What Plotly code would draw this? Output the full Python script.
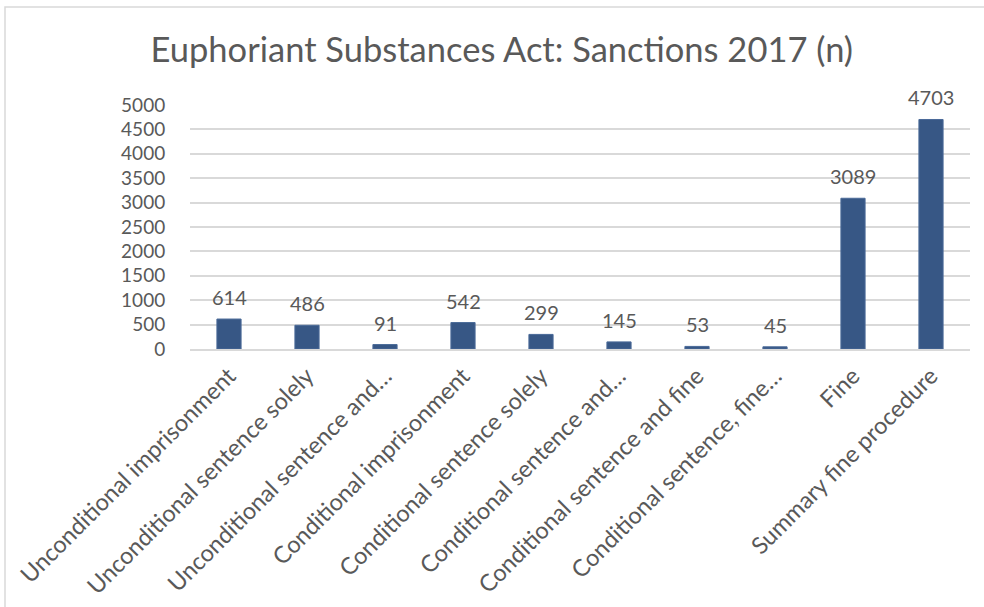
import plotly.graph_objects as go

categories = [
    "Unconditional imprisonment",
    "Unconditional sentence solely",
    "Unconditional sentence and…",
    "Conditional imprisonment",
    "Conditional sentence solely",
    "Conditional sentence and…",
    "Conditional sentence and fine",
    "Conditional sentence, fine…",
    "Fine",
    "Summary fine procedure",
]
values = [614, 486, 91, 542, 299, 145, 53, 45, 3089, 4703]
y_ticks = [0, 500, 1000, 1500, 2000, 2500, 3000, 3500, 4000, 4500, 5000]

FONT = "Lato"
GRAY = "#595959"

fig = go.Figure(
    go.Bar(
        x=categories,
        y=values,
        marker=dict(color="#375785", line=dict(color="#4a6a98", width=1)),
        width=0.31,
        hoverinfo="skip",
    )
)

annotations = [
    dict(
        x=c, y=v, xref="x", yref="y",
        text=str(v), showarrow=False,
        yanchor="bottom", yshift=8,
        font=dict(family=FONT, size=20, color=GRAY),
    )
    for c, v in zip(categories, values)
]

fig.update_layout(
    width=984,
    height=607,
    margin=dict(l=190, r=14, t=105, b=258),
    paper_bgcolor="white",
    plot_bgcolor="white",
    title=dict(
        text="Euphoriant Substances Act: Sanctions 2017 (n)",
        x=0.51,
        xanchor="center",
        y=0.918,
        yanchor="middle",
        font=dict(family=FONT, size=34.5, color=GRAY),
    ),
    showlegend=False,
    annotations=annotations,
    xaxis=dict(
        tickangle=-45,
        tickfont=dict(family=FONT, size=23.5, color=GRAY),
        showline=True,
        linecolor="#d9d9d9",
        linewidth=2,
        showgrid=False,
        ticks="outside",
        ticklen=2,
        tickcolor="white",
        automargin=False,
    ),
    yaxis=dict(
        range=[0, 5000],
        tickvals=y_ticks,
        ticktext=[str(v) for v in y_ticks],
        tickfont=dict(family=FONT, size=19, color=GRAY),
        showgrid=True,
        gridcolor="#d9d9d9",
        gridwidth=1.5,
        zeroline=False,
        ticks="outside",
        ticklen=20,
        tickcolor="white",
        automargin=False,
    ),
    shapes=[
        dict(
            type="rect",
            xref="paper",
            yref="paper",
            x0=(5 - 190) / 780,
            x1=(995 - 190) / 780,
            y0=-2,
            y1=(349 - 7) / 244,
            line=dict(color="#d9d9d9", width=1.5),
            fillcolor="rgba(0,0,0,0)",
            layer="below",
        )
    ],
)

fig.write_html(
    "out.html",
    config={"displayModeBar": False},
    post_script="document.body.style.margin='0';",
)
